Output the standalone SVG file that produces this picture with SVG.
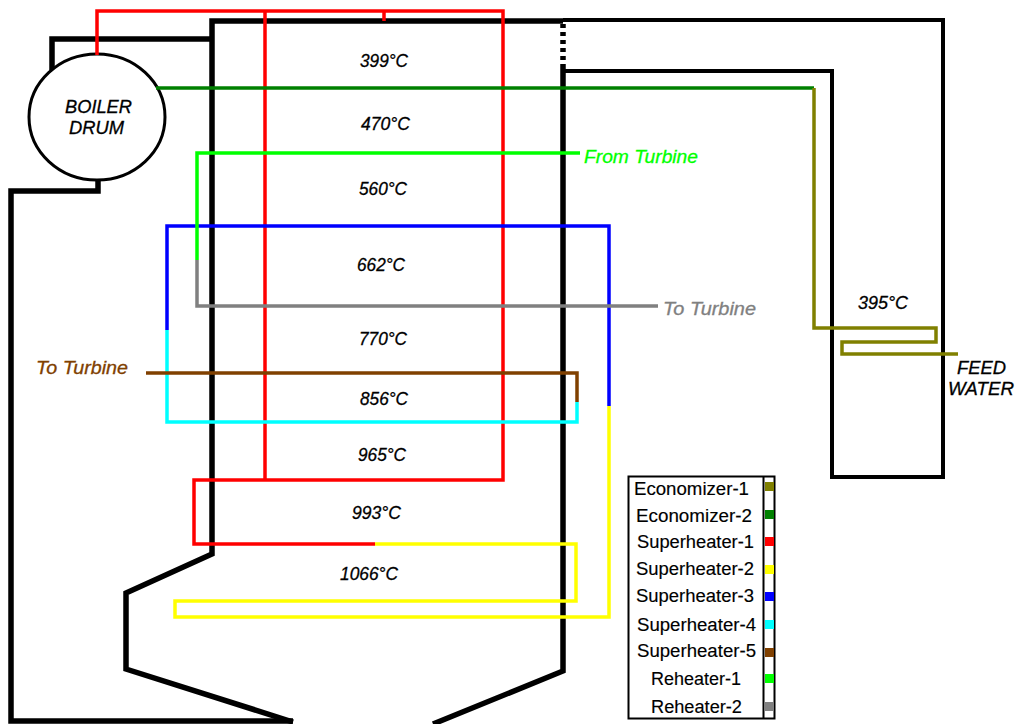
<svg xmlns="http://www.w3.org/2000/svg" width="1020" height="724" viewBox="0 0 1020 724">
<style>
.p{fill:none;stroke-linejoin:miter}
.w{stroke:#000;stroke-width:5.500}
.d{stroke:#000;stroke-width:4}
.c{stroke-width:3.500}
text{font-family:"Liberation Sans",Arial,sans-serif;fill:#000}
.t{font-size:18.500px;font-style:italic;stroke:#000;stroke-width:.3}
.l{font-size:17.500px;stroke:#000;stroke-width:.15}
</style>
<rect width="1020" height="724" fill="#fff"/>
<g id="furnace-walls">
<path class="p w" d="M52 70V39H212"/>
<path class="p w" d="M98 178V191H11V721H293"/>
<path class="p w" d="M563 21H212V554L126 593V669L293 722"/>
<path class="p w" d="M563 65V671L433 724"/>
<path class="p w" d="M563 24V65" stroke-dasharray="4 4"/>
</g>
<g id="back-pass">
<path class="p d" d="M563 20H943V477H832V71H563"/>
</g>
<g id="boiler-drum">
<ellipse cx="97" cy="117" rx="68" ry="63" fill="#fff" stroke="#000" stroke-width="3"/>
<text class="t" x="65" y="113" textLength="67" lengthAdjust="spacingAndGlyphs">BOILER</text>
<text class="t" x="69" y="134" textLength="55" lengthAdjust="spacingAndGlyphs">DRUM</text>
</g>
<g id="connectors">
<path class="p c" stroke="#f00" d="M97 55V11H503V480H194V544H375M265 11V480M384 11V21"/>
<path class="p c" stroke="#ff0" d="M375 544H576V601H175V617H609V406"/>
<path class="p c" stroke="#00f" d="M167 330V226H609V406"/>
<path class="p c" stroke="#0ff" d="M167 330V422H577V402"/>
<path class="p c" stroke="#804000" d="M577 402V373H146"/>
<path class="p c" stroke="#0f0" d="M580 153H197V260"/>
<path class="p c" stroke="#808080" d="M197 260V306H658"/>
<path class="p c" stroke="#008000" d="M156 88H814"/>
<path class="p c" stroke="#808000" d="M814 88V328H936V342H842V354H958"/>
</g>
<g id="temperatures">
<text class="t" x="360" y="67" textLength="48" lengthAdjust="spacingAndGlyphs">399°C</text>
<text class="t" x="361" y="130" textLength="49" lengthAdjust="spacingAndGlyphs">470°C</text>
<text class="t" x="359" y="195" textLength="48" lengthAdjust="spacingAndGlyphs">560°C</text>
<text class="t" x="357" y="271" textLength="48" lengthAdjust="spacingAndGlyphs">662°C</text>
<text class="t" x="359" y="345" textLength="48" lengthAdjust="spacingAndGlyphs">770°C</text>
<text class="t" x="360" y="405" textLength="48" lengthAdjust="spacingAndGlyphs">856°C</text>
<text class="t" x="358" y="461" textLength="48" lengthAdjust="spacingAndGlyphs">965°C</text>
<text class="t" x="352" y="519" textLength="49" lengthAdjust="spacingAndGlyphs">993°C</text>
<text class="t" x="340" y="580" textLength="58" lengthAdjust="spacingAndGlyphs">1066°C</text>
<text class="t" x="858" y="309" textLength="50" lengthAdjust="spacingAndGlyphs">395°C</text>
</g>
<g id="labels">
<text class="t" x="584" y="163" textLength="114" lengthAdjust="spacingAndGlyphs" style="fill:#0f0;stroke:#0f0">From Turbine</text>
<text class="t" x="663" y="315" textLength="93" lengthAdjust="spacingAndGlyphs" style="fill:#808080;stroke:#808080">To Turbine</text>
<text class="t" x="36" y="374" textLength="92" lengthAdjust="spacingAndGlyphs" style="fill:#804000;stroke:#804000">To Turbine</text>
<text class="t" x="957" y="374" textLength="49" lengthAdjust="spacingAndGlyphs">FEED</text>
<text class="t" x="948" y="395" textLength="66" lengthAdjust="spacingAndGlyphs">WATER</text>
</g>
<g id="legend">
<rect x="628.500" y="476.500" width="146" height="242" fill="#fff" stroke="#000" stroke-width="2"/>
<path d="M763.500 476V719" stroke="#000" stroke-width="2"/>
<rect x="765" y="482" width="9" height="9" fill="#808000"/>
<rect x="765" y="510" width="9" height="9" fill="#008000"/>
<rect x="765" y="537" width="9" height="9" fill="#f00"/>
<rect x="765" y="565" width="9" height="9" fill="#ff0"/>
<rect x="765" y="592" width="9" height="9" fill="#00f"/>
<rect x="765" y="620" width="9" height="9" fill="#0ff"/>
<rect x="765" y="648" width="9" height="9" fill="#804000"/>
<rect x="765" y="674" width="9" height="9" fill="#0f0"/>
<rect x="765" y="702" width="9" height="9" fill="#808080"/>
<text class="l" x="634" y="495" textLength="115" lengthAdjust="spacingAndGlyphs">Economizer-1</text>
<text class="l" x="636" y="521.500" textLength="116" lengthAdjust="spacingAndGlyphs">Economizer-2</text>
<text class="l" x="637" y="548" textLength="117" lengthAdjust="spacingAndGlyphs">Superheater-1</text>
<text class="l" x="636" y="575" textLength="118" lengthAdjust="spacingAndGlyphs">Superheater-2</text>
<text class="l" x="636" y="602" textLength="118" lengthAdjust="spacingAndGlyphs">Superheater-3</text>
<text class="l" x="637" y="631" textLength="119" lengthAdjust="spacingAndGlyphs">Superheater-4</text>
<text class="l" x="637" y="657" textLength="119" lengthAdjust="spacingAndGlyphs">Superheater-5</text>
<text class="l" x="651" y="685" textLength="90" lengthAdjust="spacingAndGlyphs">Reheater-1</text>
<text class="l" x="651" y="712.500" textLength="91" lengthAdjust="spacingAndGlyphs">Reheater-2</text>
</g>
</svg>
